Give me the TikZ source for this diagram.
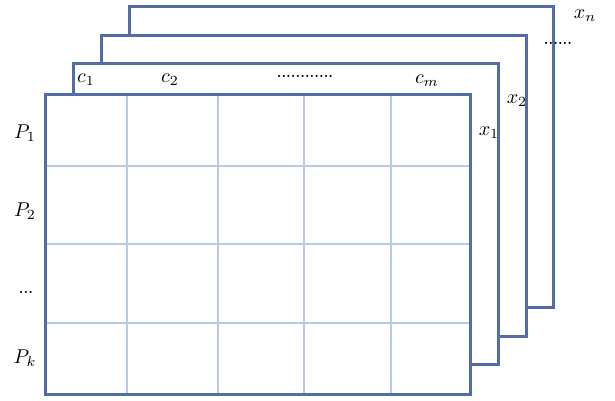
\documentclass[tikz,border=0pt]{standalone}
\usepackage{graphicx}
\usepackage{tikz}
\definecolor{frameblue}{RGB}{84,108,168}
\definecolor{gridblue}{RGB}{184,202,230}
\newcommand{\biglab}[1]{\scalebox{2.0}{$#1$}}
\begin{document}
\begin{tikzpicture}[x=1pt,y=-1pt,
  layer/.style={draw=frameblue,line width=3.0pt,fill=white},
  gridline/.style={draw=gridblue,line width=1.4pt},
  lab/.style={inner sep=0pt},
  dots/.style={inner sep=0pt,font=\fontsize{15}{17}\selectfont\bfseries}]
\useasboundingbox (0,0) rectangle (615,400);
% stacked layers
\draw[layer] (129,6) rectangle (553,307);
\draw[layer] (101,35) rectangle (526,336);
\draw[layer] (73,63) rectangle (498,364);
\fill[white] (45,94) rectangle (470,394);
% grid
\foreach \gx in {127,218,304,391} \draw[gridline] (\gx,94) -- (\gx,394);
\foreach \gy in {166,244,323} \draw[gridline] (45,\gy) -- (470,\gy);
\draw[layer,fill=none] (45,94) rectangle (470,394);
% labels
\node[lab] (p1) at (25,133) {\biglab{P_1}};
\node[lab] (p2) at (25,211) {\biglab{P_2}};
\node[dots] (pd) at (26,292) {...};
\node[lab] (pk) at (25,358) {\biglab{P_k}};
\node[lab] (c1) at (86,80) {\biglab{c_1}};
\node[lab] (c2) at (170,80) {\biglab{c_2}};
\node[dots] (cd) at (305,76) {............};
\node[lab] (cm) at (427,81) {\biglab{c_m}};
\node[lab] (x1) at (489,133) {\biglab{x_1}};
\node[lab] (x2) at (517,101) {\biglab{x_2}};
\node[dots] (xd) at (558,43) {......};
\node[lab] (xn) at (585,16) {\biglab{x_n}};
\end{tikzpicture}
\end{document}
